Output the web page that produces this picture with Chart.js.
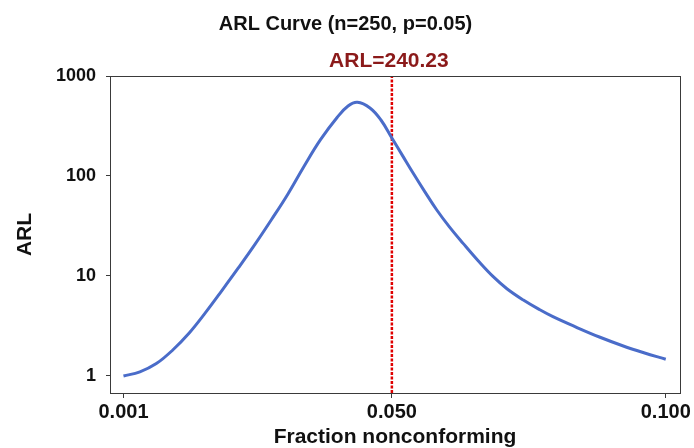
<!DOCTYPE html>
<html>
<head>
<meta charset="utf-8">
<script src="https://cdn.jsdelivr.net/npm/chart.js@4/dist/chart.umd.min.js"></script>
<style>
  html, body { margin: 0; padding: 0; background: #fff; }
  #wrap { width: 694px; height: 448px; }
</style>
</head>
<body>
<div id="wrap"><canvas id="c" width="694" height="448"></canvas></div>
<script>
// ---- data ----
const fractions = [0.001, 0.004, 0.007, 0.010, 0.013, 0.016, 0.019, 0.022, 0.025, 0.028, 0.031, 0.034, 0.037, 0.040, 0.042, 0.0437, 0.046, 0.048, 0.050, 0.052, 0.0539, 0.056, 0.0582, 0.0605, 0.063, 0.066, 0.0685, 0.071, 0.074, 0.077, 0.0794, 0.0837, 0.088, 0.092, 0.096, 0.100];
const arlValues = [1.00, 1.10, 1.33, 1.82, 2.69, 4.32, 7.19, 12.1, 20.7, 36.5, 65.8, 126, 232, 385, 501, 546, 479, 363, 240.23, 158, 106.4, 69.8, 45.7, 31.0, 21.2, 13.7, 9.84, 7.46, 5.75, 4.60, 3.92, 3.07, 2.44, 2.02, 1.71, 1.47];
const xTicks = [0.001, 0.050, 0.100];
const yTicks = [1, 10, 100, 1000];
const markerP = 0.05;
const markerARL = 240.23;
const xRange = [-0.00146, 0.1026];
const yRange = [0.676, 1000];
const titleText = 'ARL Curve (n=250, p=0.05)';
const xTitle = 'Fraction nonconforming';
const yTitle = 'ARL';

const FONT = "'Liberation Sans', Arial, Helvetica, sans-serif";
const AXIS = '#3a3a3a';

const curve = fractions.map((p, i) => ({ x: p, y: arlValues[i] }));
const vline = [{ x: markerP, y: yRange[0] }, { x: markerP, y: yRange[1] }];

const framePlugin = {
  id: 'frame',
  afterDatasetsDraw(chart) {
    const { ctx, chartArea: a } = chart;
    ctx.save();
    ctx.strokeStyle = AXIS;
    ctx.lineWidth = 1;
    ctx.strokeRect(Math.round(a.left) + 0.5, Math.round(a.top) + 0.5,
                   Math.round(a.right - a.left), Math.round(a.bottom - a.top));
    // marker label
    const px = chart.scales.x.getPixelForValue(markerP);
    ctx.font = 'bold 21px ' + FONT;
    ctx.fillStyle = '#8B1A1A';
    ctx.textAlign = 'center';
    ctx.textBaseline = 'alphabetic';
    ctx.fillText('ARL=' + markerARL.toFixed(2), px - 3, a.top - 9);
    ctx.restore();
  }
};

new Chart(document.getElementById('c'), {
  type: 'line',
  data: {
    datasets: [
      {
        label: 'ARL',
        data: curve,
        borderColor: '#4A6CC9',
        borderWidth: 3,
        pointRadius: 0,
        tension: 0.4,
        fill: false
      },
      {
        label: 'marker',
        data: vline,
        borderColor: '#E00000',
        borderWidth: 2.5,
        borderDash: [3, 1.5],
        pointRadius: 0,
        fill: false
      }
    ]
  },
  options: {
    responsive: false,
    animation: false,
    layout: { padding: { left: 11, right: 14, top: 0, bottom: 0 } },
    plugins: {
      legend: { display: false },
      tooltip: { enabled: false },
      title: {
        display: true,
        text: titleText,
        color: '#111',
        font: { family: FONT, size: 20, weight: 'bold' },
        padding: { top: 12, bottom: 40 }
      }
    },
    scales: {
      x: {
        type: 'linear',
        min: xRange[0],
        max: xRange[1],
        afterBuildTicks: s => { s.ticks = xTicks.map(v => ({ value: v })); },
        afterFit: s => { s.height = 55; },
        ticks: {
          color: '#111',
          font: { family: FONT, size: 20, weight: 'bold' },
          padding: 2,
          maxRotation: 0,
          autoSkip: false,
          callback: v => Number(v).toFixed(3)
        },
        grid: { drawOnChartArea: false, drawTicks: true, tickLength: 5, color: AXIS },
        border: { display: false },
        title: {
          display: true,
          text: xTitle,
          color: '#111',
          font: { family: FONT, size: 21, weight: 'bold' },
          padding: { top: 0, bottom: -2 }
        }
      },
      y: {
        type: 'logarithmic',
        min: yRange[0],
        max: yRange[1],
        afterBuildTicks: s => { s.ticks = yTicks.map(v => ({ value: v })); },
        afterFit: s => { s.width = 99; },
        ticks: {
          color: '#111',
          font: { family: FONT, size: 18, weight: 'bold' },
          padding: 10,
          autoSkip: false,
          callback: v => String(v)
        },
        grid: { drawOnChartArea: false, drawTicks: true, tickLength: 4, color: AXIS },
        border: { display: false },
        title: {
          display: true,
          text: yTitle,
          color: '#111',
          font: { family: FONT, size: 21, weight: 'bold' },
          padding: { top: 2, bottom: 0 }
        }
      }
    }
  },
  plugins: [framePlugin]
});
</script>
</body>
</html>
